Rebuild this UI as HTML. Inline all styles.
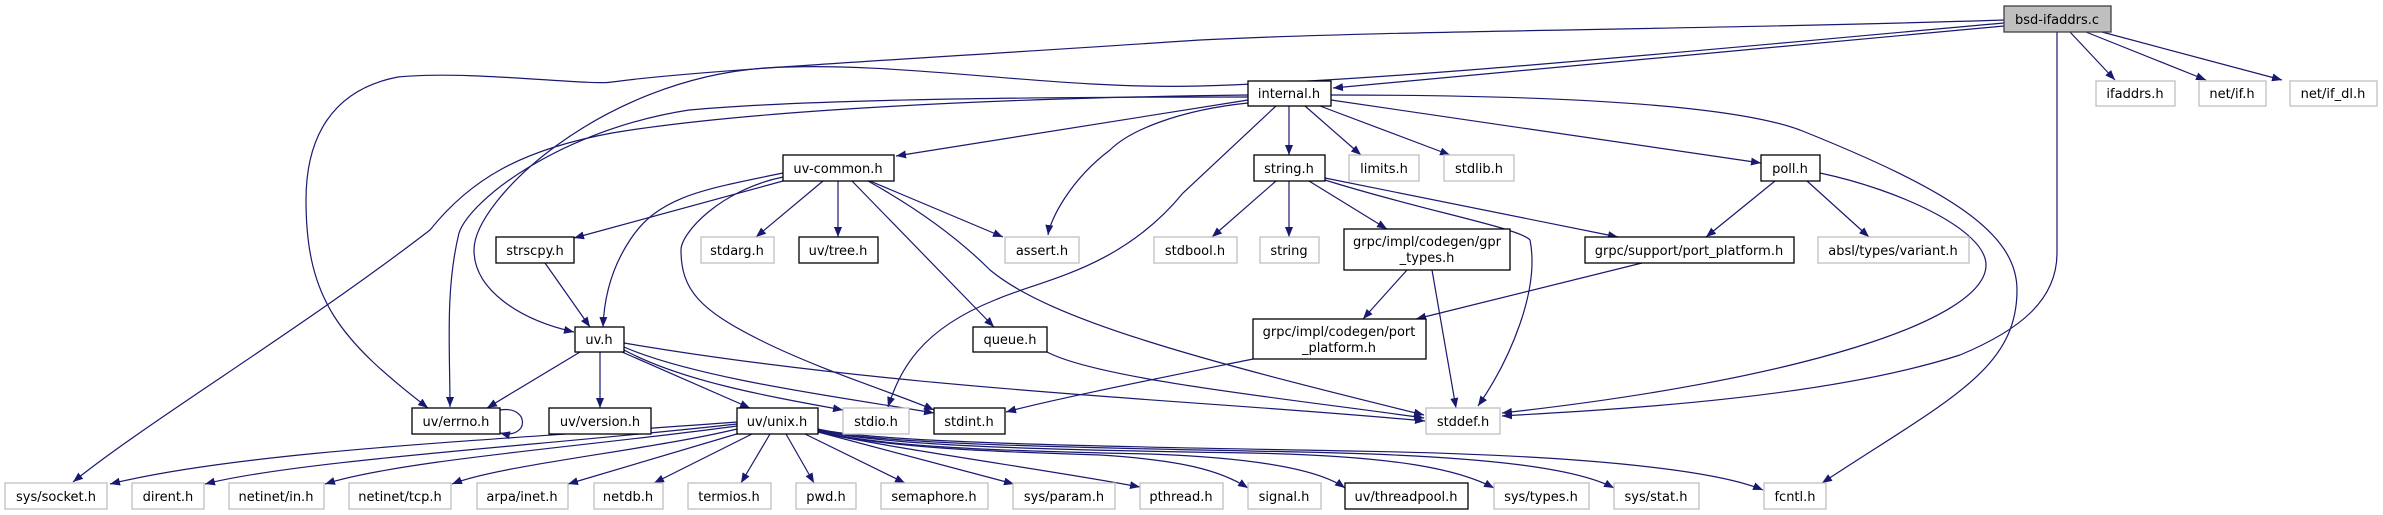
<!DOCTYPE html>
<html><head><meta charset="utf-8"><style>
html,body{margin:0;padding:0;background:#fff;}
svg{display:block;}
text{font-family:"DejaVu Sans","Liberation Sans",sans-serif;font-size:13px;fill:#000;text-anchor:middle;}
.e{fill:none;stroke:#191970;stroke-width:1.2;marker-end:url(#a);}
.g{fill:#fff;stroke:#bfbfbf;stroke-width:1.3;}
.b{fill:#fff;stroke:#000;stroke-width:1.3;}
</style></head><body>
<svg width="2383" height="515" viewBox="0 0 2383 515" xmlns="http://www.w3.org/2000/svg">
<defs><marker id="a" markerUnits="userSpaceOnUse" markerWidth="11" markerHeight="8" refX="10" refY="4" orient="auto"><path d="M0,0 L10,4 L0,8 z" fill="#191970"/></marker></defs>

<!-- edges from bsd-ifaddrs.c -->
<path class="e" d="M2004,20 C1700,30 1400,30 1200,40 C900,60 700,70 612,82 C590,86 470,70 398,77 C330,90 306,140 306,200 C306,300 340,340 428,408"/>
<path class="e" d="M2004,23 C1700,50 1400,80 1200,86 C1050,90 900,60 765,68 C600,80 474,200 474,250 C474,290 520,320 574,332"/>
<path class="e" d="M2004,26 L1333,88"/>
<path class="e" d="M2070,32 L2115,80"/>
<path class="e" d="M2086,32 L2206,80"/>
<path class="e" d="M2102,32 L2282,80"/>
<path class="e" d="M2057,32 L2057,253 C2057,300 2020,330 1960,355 C1820,400 1600,410 1502,416"/>

<!-- internal.h -->
<path class="e" d="M1248,100 L896,156"/>
<path class="e" d="M1248,103 C1180,110 1130,130 1110,150 C1070,180 1050,220 1048,235"/>
<path class="e" d="M1276,106 L1183,193 C1120,270 1040,280 995,300 C920,330 900,370 888,407"/>
<path class="e" d="M1248,95 C1000,98 750,110 612,133 C520,150 470,180 430,230 C300,330 150,420 73,482"/>
<path class="e" d="M1248,97 C1000,97 800,100 689,110 C560,130 470,200 459,233 C445,290 450,350 450,407"/>
<path class="e" d="M1289,106 L1289,155"/>
<path class="e" d="M1305,106 L1361,155"/>
<path class="e" d="M1320,106 L1450,155"/>
<path class="e" d="M1331,100 L1761,163"/>
<path class="e" d="M1331,95 C1500,95 1719,100 1800,130 C1950,190 2017,233 2017,290 C2017,370 1948,400 1822,483"/>

<!-- uv-common.h -->
<path class="e" d="M783,181 L574,238"/>
<path class="e" d="M783,173 C700,190 658,197 630,240 C610,270 604,300 603,327"/>
<path class="e" d="M823,181 L756,237"/>
<path class="e" d="M838,181 L838,237"/>
<path class="e" d="M870,181 L1003,237"/>
<path class="e" d="M852,181 L994,327"/>
<path class="e" d="M783,177 C720,190 681,233 681,250 C681,290 700,310 760,340 C820,370 900,395 934,410"/>
<path class="e" d="M868,181 C920,210 960,240 990,270 C1050,320 1200,360 1424,415"/>

<!-- strscpy -->
<path class="e" d="M545,263 L590,327"/>

<!-- uv.h -->
<path class="e" d="M580,352 L487,408"/>
<path class="e" d="M600,352 L600,408"/>
<path class="e" d="M622,352 L750,408"/>
<path class="e" d="M624,350 C680,380 760,395 843,410"/>
<path class="e" d="M624,347 C700,380 860,400 934,413"/>
<path class="e" d="M624,343 C900,390 1200,400 1425,421"/>
<path class="e" d="M500,410 C530,405 530,440 500,433"/>

<!-- queue.h -->
<path class="e" d="M1047,352 C1100,380 1300,400 1424,418"/>

<!-- string.h -->
<path class="e" d="M1276,181 L1212,237"/>
<path class="e" d="M1289,181 L1289,237"/>
<path class="e" d="M1309,181 L1387,229"/>
<path class="e" d="M1325,178 L1618,237"/>
<path class="e" d="M1325,180 C1420,210 1520,228 1530,240 C1540,290 1510,360 1478,406"/>

<!-- grpc -->
<path class="e" d="M1407,270 L1363,319"/>
<path class="e" d="M1432,270 L1456,408"/>
<path class="e" d="M1642,263 L1416,319"/>
<path class="e" d="M1253,359 C1150,380 1050,400 1006,412"/>

<!-- poll.h -->
<path class="e" d="M1775,181 L1706,237"/>
<path class="e" d="M1807,181 L1869,237"/>
<path class="e" d="M1820,173 C1900,190 1986,230 1986,265 C1986,320 1800,380 1502,413"/>

<!-- uv/unix.h -->
<path class="e" d="M737,422 C500,440 250,450 110,484"/>
<path class="e" d="M737,424 C550,445 300,460 205,484"/>
<path class="e" d="M737,426 C600,445 400,460 325,484"/>
<path class="e" d="M737,429 C650,450 500,465 452,484"/>
<path class="e" d="M740,433 L568,484"/>
<path class="e" d="M752,434 L654,483"/>
<path class="e" d="M770,434 L741,483"/>
<path class="e" d="M786,434 L814,483"/>
<path class="e" d="M805,434 L905,483"/>
<path class="e" d="M818,432 L1014,484"/>
<path class="e" d="M818,432 C900,450 1050,470 1140,487"/>
<path class="e" d="M818,431 C880,448 1000,452 1100,455 C1180,460 1220,470 1248,488"/>
<path class="e" d="M818,431 C880,447 1000,451 1150,454 C1260,458 1320,470 1345,488"/>
<path class="e" d="M818,430 C880,446 1050,450 1250,453 C1400,456 1460,470 1494,488"/>
<path class="e" d="M818,430 C880,445 1100,448 1300,452 C1500,456 1580,470 1614,488"/>
<path class="e" d="M818,429 C880,444 1150,447 1350,451 C1600,455 1720,472 1763,490"/>

<!-- nodes -->
<rect x="2004" y="6" width="107" height="26" fill="#bfbfbf" stroke="#404040" stroke-width="1.3"/><text x="2057" y="24">bsd-ifaddrs.c</text>
<rect class="g" x="2096" y="81" width="79" height="25"/><text x="2135" y="98">ifaddrs.h</text>
<rect class="g" x="2199" y="81" width="67" height="25"/><text x="2232" y="98">net/if.h</text>
<rect class="g" x="2290" y="81" width="87" height="25"/><text x="2333" y="98">net/if_dl.h</text>
<rect class="b" x="1248" y="81" width="83" height="25"/><text x="1289" y="98">internal.h</text>
<rect class="b" x="783" y="155" width="111" height="26"/><text x="838" y="173">uv-common.h</text>
<rect class="b" x="1254" y="155" width="71" height="26"/><text x="1289" y="173">string.h</text>
<rect class="g" x="1349" y="155" width="70" height="26"/><text x="1384" y="173">limits.h</text>
<rect class="g" x="1444" y="155" width="70" height="26"/><text x="1479" y="173">stdlib.h</text>
<rect class="b" x="1761" y="155" width="59" height="26"/><text x="1790" y="173">poll.h</text>
<rect class="b" x="496" y="237" width="78" height="26"/><text x="535" y="255">strscpy.h</text>
<rect class="g" x="701" y="237" width="73" height="26"/><text x="737" y="255">stdarg.h</text>
<rect class="b" x="799" y="237" width="79" height="26"/><text x="838" y="255">uv/tree.h</text>
<rect class="g" x="1005" y="237" width="74" height="26"/><text x="1042" y="255">assert.h</text>
<rect class="g" x="1154" y="237" width="83" height="26"/><text x="1195" y="255">stdbool.h</text>
<rect class="g" x="1260" y="237" width="59" height="26"/><text x="1289" y="255">string</text>
<rect class="b" x="1344" y="229" width="166" height="41"/><text x="1427" y="246">grpc/impl/codegen/gpr</text><text x="1427" y="262">_types.h</text>
<rect class="b" x="1585" y="237" width="209" height="26"/><text x="1689" y="255">grpc/support/port_platform.h</text>
<rect class="g" x="1818" y="237" width="151" height="26"/><text x="1893" y="255">absl/types/variant.h</text>
<rect class="b" x="575" y="327" width="49" height="25"/><text x="599" y="344">uv.h</text>
<rect class="b" x="973" y="327" width="74" height="25"/><text x="1010" y="344">queue.h</text>
<rect class="b" x="1253" y="319" width="173" height="40"/><text x="1339" y="336">grpc/impl/codegen/port</text><text x="1339" y="352">_platform.h</text>
<rect class="b" x="412" y="408" width="88" height="26"/><text x="456" y="426">uv/errno.h</text>
<rect class="b" x="549" y="408" width="102" height="26"/><text x="600" y="426">uv/version.h</text>
<rect class="b" x="737" y="408" width="81" height="26"/><text x="777" y="426">uv/unix.h</text>
<rect class="g" x="843" y="408" width="66" height="26"/><text x="876" y="426">stdio.h</text>
<rect class="b" x="934" y="408" width="71" height="26"/><text x="969" y="426">stdint.h</text>
<rect class="g" x="1426" y="408" width="74" height="26"/><text x="1463" y="426">stddef.h</text>
<rect class="g" x="5" y="483" width="102" height="26"/><text x="56" y="501">sys/socket.h</text>
<rect class="g" x="132" y="483" width="72" height="26"/><text x="168" y="501">dirent.h</text>
<rect class="g" x="229" y="483" width="95" height="26"/><text x="276" y="501">netinet/in.h</text>
<rect class="g" x="349" y="483" width="102" height="26"/><text x="400" y="501">netinet/tcp.h</text>
<rect class="g" x="477" y="483" width="91" height="26"/><text x="522" y="501">arpa/inet.h</text>
<rect class="g" x="594" y="483" width="69" height="26"/><text x="628" y="501">netdb.h</text>
<rect class="g" x="688" y="483" width="83" height="26"/><text x="729" y="501">termios.h</text>
<rect class="g" x="796" y="483" width="60" height="26"/><text x="826" y="501">pwd.h</text>
<rect class="g" x="881" y="483" width="107" height="26"/><text x="934" y="501">semaphore.h</text>
<rect class="g" x="1013" y="483" width="102" height="26"/><text x="1064" y="501">sys/param.h</text>
<rect class="g" x="1140" y="483" width="83" height="26"/><text x="1181" y="501">pthread.h</text>
<rect class="g" x="1248" y="483" width="73" height="26"/><text x="1284" y="501">signal.h</text>
<rect class="b" x="1345" y="483" width="123" height="26"/><text x="1406" y="501">uv/threadpool.h</text>
<rect class="g" x="1494" y="483" width="95" height="26"/><text x="1541" y="501">sys/types.h</text>
<rect class="g" x="1614" y="483" width="85" height="26"/><text x="1656" y="501">sys/stat.h</text>
<rect class="g" x="1764" y="483" width="62" height="26"/><text x="1795" y="501">fcntl.h</text>
</svg>
</body></html>
